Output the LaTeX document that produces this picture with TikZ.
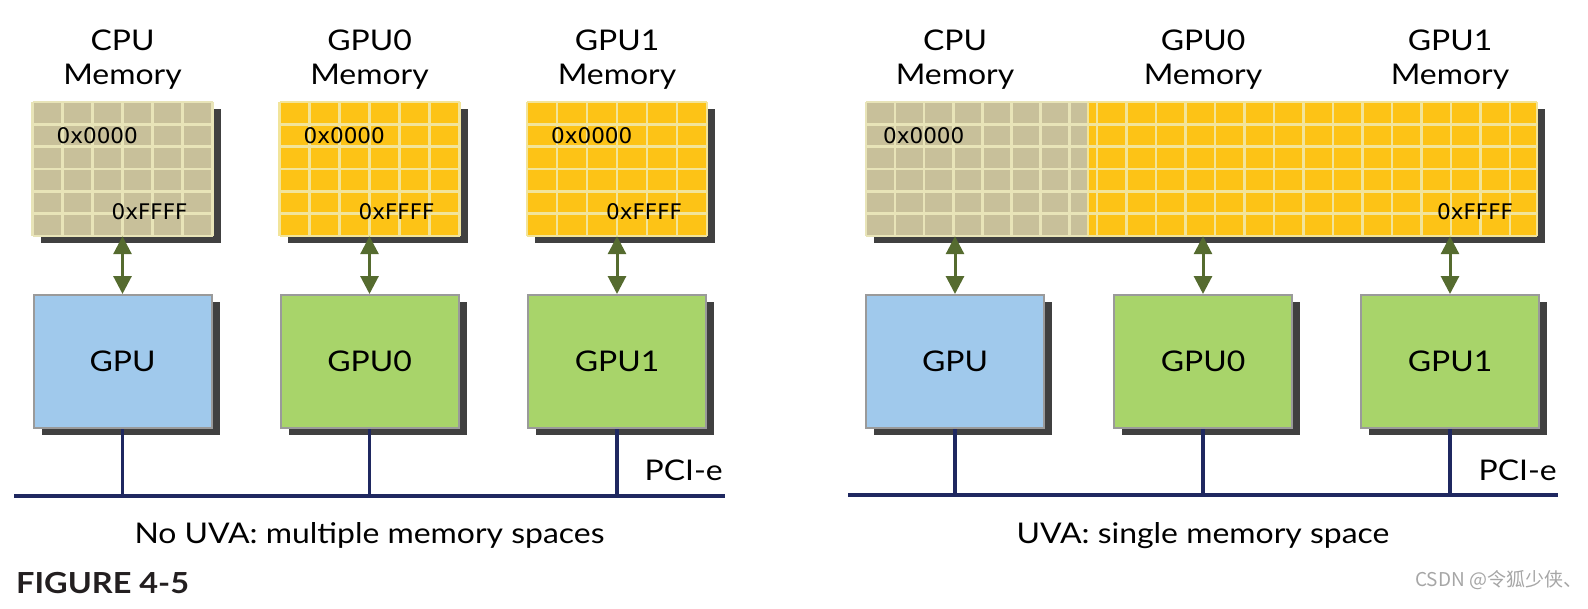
\documentclass[tikz,border=0pt]{standalone}
\usepackage{fontspec}
\setmainfont{Lato}[FakeStretch=1.12]
\newfontfamily\hexfont{DejaVu Sans}
\newfontfamily\cjkfont{Noto Sans CJK SC}
\usetikzlibrary{arrows.meta,shadows}
\definecolor{tanc}{HTML}{C8C09A}
\definecolor{yelc}{HTML}{FDC316}
\definecolor{tanline}{HTML}{E8E4B8}
\definecolor{yelline}{HTML}{F2E49A}
\definecolor{shadowc}{HTML}{404040}
\definecolor{bluec}{HTML}{A0C9EC}
\definecolor{greenc}{HTML}{A8D46A}
\definecolor{borderc}{HTML}{9A9A9A}
\definecolor{arrc}{HTML}{556B2F}
\definecolor{busc}{HTML}{1F2860}
\tikzset{
  lbl/.style={font=\fontsize{28.5}{34}\selectfont, text=black, inner sep=0pt},
  hex/.style={font=\hexfont\fontsize{21.5}{24}\selectfont, text=black, inner sep=0pt},
  shad/.style={drop shadow={shadow xshift=8pt, shadow yshift=-7pt, fill=shadowc, opacity=1}},
  membox/.style={rectangle, draw=none, inner sep=0pt, minimum width=180pt, minimum height=134pt, shad},
  gpubox/.style={rectangle, draw=borderc, line width=2pt, inner sep=0pt, minimum width=178pt, minimum height=133pt, shad, lbl},
  arr/.style={draw=arrc, line width=3pt, {Triangle[width=18pt,length=18pt]}-{Triangle[width=18pt,length=18pt]}},
  bus/.style={draw=busc, line width=3.5pt},
}
\begin{document}
\begin{tikzpicture}[x=1pt,y=-1pt]
\useasboundingbox (0,0) rectangle (1588,608);
% ---------- left: no UVA ----------
\foreach \n/\cx/\col in {m1/122.5/tanc, m2/369.5/yelc, m3/617/yelc}{
  \node[membox, fill=\col] (\n) at (\cx,169) {};
}
\foreach \cx/\lc in {122.5/tanline, 369.5/yelline, 617/yelline}{
  \foreach \i in {0,...,6}
    \draw[\lc, line width=2.5pt] ({\cx-90+\i*30},102) -- ({\cx-90+\i*30},236);
  \foreach \j in {0,...,6}
    \draw[\lc, line width=2.5pt] ({\cx-90},{102+\j*22.33}) -- ({\cx+90},{102+\j*22.33});
  \node[hex, anchor=base west] at ({\cx-66},143) {0x0000};
  \node[hex, anchor=base west] at ({\cx-11},219) {0xFFFF};
}
\node[lbl, anchor=base] (t1a) at (122.5,50) {CPU};
\node[lbl, anchor=base] (t1b) at (122.5,84) {Memory};
\node[lbl, anchor=base] (t2a) at (369.5,50) {GPU0};
\node[lbl, anchor=base] (t2b) at (369.5,84) {Memory};
\node[lbl, anchor=base] (t3a) at (617,50) {GPU1};
\node[lbl, anchor=base] (t3b) at (617,84) {Memory};

\node[gpubox, fill=bluec] (g1) at (122.5,361.5) {GPU};
\node[gpubox, fill=greenc] (g2) at (369.5,361.5) {GPU0};
\node[gpubox, fill=greenc] (g3) at (617,361.5) {GPU1};

\draw[arr] (m1.south) -- (g1.north);
\draw[arr] (m2.south) -- (g2.north);
\draw[arr] (m3.south) -- (g3.north);

\coordinate (bl0) at (14,496);
\coordinate (bl1) at (725,496);
\draw[bus] (g1.south) -- (g1.south |- bl0);
\draw[bus] (g2.south) -- (g2.south |- bl0);
\draw[bus] (g3.south) -- (g3.south |- bl0);
\draw[bus] (bl0) -- (bl1);
\node[lbl, anchor=base east] (pl) at (723,480) {PCI-e};
\node[lbl, anchor=base] (capl) at (369.5,543) {No UVA: multiple memory spaces};

% ---------- right: UVA ----------
\node[rectangle, draw=none, inner sep=0pt, minimum width=671pt, minimum height=134pt, shad, fill=yelc] (um) at (1201.5,169) {};
\fill[tanc] (866,102) rectangle (1088,236);
\foreach \i in {0,...,7}
  \draw[tanline, line width=2.5pt] ({866+\i*29.1},102) -- ({866+\i*29.1},236);
\draw[yelline, line width=2.5pt] (1088,102) -- (1088,236);
\foreach \i in {0,...,14}
  \draw[yelline, line width=2.5pt] ({1097+\i*29.5},102) -- ({1097+\i*29.5},236);
\draw[yelline, line width=2.5pt] (1537,102) -- (1537,236);
\foreach \j in {0,...,6}{
  \draw[tanline, line width=2.5pt] (866,{102+\j*22.33}) -- (1088,{102+\j*22.33});
  \draw[yelline, line width=2.5pt] (1088,{102+\j*22.33}) -- (1537,{102+\j*22.33});
}
\node[hex, anchor=base west] at (883,143) {0x0000};
\node[hex, anchor=base west] at (1437,219) {0xFFFF};

\node[lbl, anchor=base] (r1a) at (955,50) {CPU};
\node[lbl, anchor=base] (r1b) at (955,84) {Memory};
\node[lbl, anchor=base] (r2a) at (1203,50) {GPU0};
\node[lbl, anchor=base] (r2b) at (1203,84) {Memory};
\node[lbl, anchor=base] (r3a) at (1450,50) {GPU1};
\node[lbl, anchor=base] (r3b) at (1450,84) {Memory};

\node[gpubox, fill=bluec] (h1) at (955,361.5) {GPU};
\node[gpubox, fill=greenc] (h2) at (1203,361.5) {GPU0};
\node[gpubox, fill=greenc] (h3) at (1450,361.5) {GPU1};

\draw[arr] (h1.north |- um.south) -- (h1.north);
\draw[arr] (h2.north |- um.south) -- (h2.north);
\draw[arr] (h3.north |- um.south) -- (h3.north);

\coordinate (br0) at (848,495);
\coordinate (br1) at (1558,495);
\draw[bus] (h1.south) -- (h1.south |- br0);
\draw[bus] (h2.south) -- (h2.south |- br0);
\draw[bus] (h3.south) -- (h3.south |- br0);
\draw[bus] (br0) -- (br1);
\node[lbl, anchor=base east] (pr) at (1557,480) {PCI-e};
\node[lbl, anchor=base] (capr) at (1203,543) {UVA: single memory space};

\node[lbl, anchor=base west, font=\bfseries\fontsize{29}{34}\selectfont, text={rgb,255:red,35;green,31;blue,32}] (fig) at (16,593) {FIGURE 4-5};
\node[anchor=west, inner sep=0pt, text=gray!70, font=\cjkfont\fontsize{19}{22}\selectfont] (wm) at (1415,580) {CSDN @令狐少侠、};
\end{tikzpicture}
\end{document}
